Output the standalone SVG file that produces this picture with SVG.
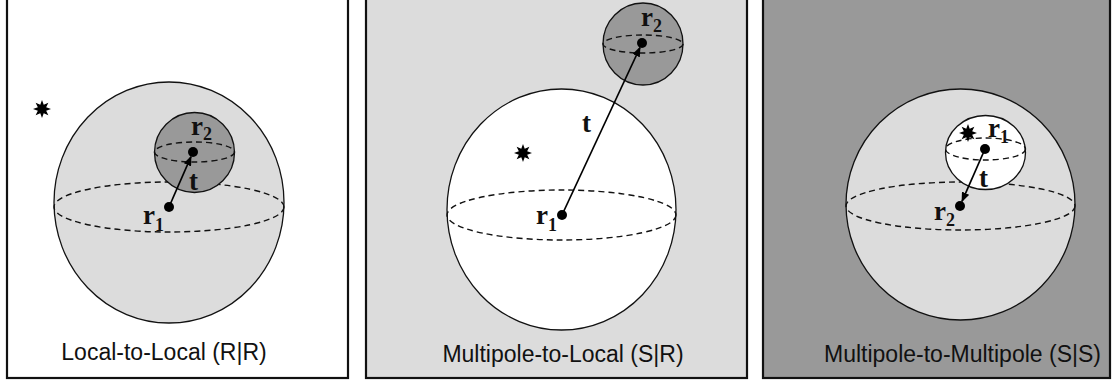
<svg xmlns="http://www.w3.org/2000/svg" width="1114" height="385" viewBox="0 0 1114 385">
<style>
.frame{stroke:#111;stroke-width:2.2}
.sph{stroke:#111;stroke-width:1.3}
.eq{fill:none;stroke:#111;stroke-width:1.4;stroke-dasharray:6 4}
.dot{fill:#000}
.lab{font-family:"Liberation Serif","Times New Roman",serif;font-weight:bold;font-size:27px;fill:#111}
.sub{font-size:18px}
.cap{font-family:"Liberation Sans",Arial,sans-serif;font-size:23px;fill:#111;text-anchor:middle}
.arr{stroke:#000;stroke-width:1.7;fill:none;marker-end:url(#ah)}
.lt{fill:#dcdcdc}.dk{fill:#999}.wh{fill:#fff}
</style>
<defs>
<marker id="ah" markerWidth="10" markerHeight="8" refX="9" refY="4" orient="auto" markerUnits="userSpaceOnUse">
<path d="M0,0 L10,4 L0,8 Z" fill="#000"/>
</marker>
<polygon id="star" points="9,0 4.16,1.72 6.36,6.36 1.72,4.16 0,9 -1.72,4.16 -6.36,6.36 -4.16,1.72 -9,0 -4.16,-1.72 -6.36,-6.36 -1.72,-4.16 0,-9 1.72,-4.16 6.36,-6.36 4.16,-1.72" fill="#000"/>
</defs>
<rect width="1114" height="385" fill="#fff"/>

<g id="panel-rr">
<rect class="frame wh" x="7" y="-3" width="341" height="381"/>
<g id="rr-big"><ellipse class="sph lt" cx="169" cy="202.5" rx="115" ry="120.5"/><ellipse class="eq" cx="169" cy="207" rx="115" ry="25"/></g>
<g id="rr-small"><circle class="sph dk" cx="194.5" cy="152.5" r="40"/><ellipse class="eq" cx="194.5" cy="152" rx="40" ry="10"/></g>
<use id="rr-star" href="#star" x="42" y="109"/>
<g id="rr-r1"><circle class="dot" cx="169" cy="207" r="5"/><text class="lab" x="143" y="224">r<tspan class="sub" dy="7">1</tspan></text></g>
<g id="rr-r2"><circle class="dot" cx="193" cy="152" r="5"/><text class="lab" x="191" y="135">r<tspan class="sub" dy="5">2</tspan></text></g>
<text class="lab" x="189" y="190">t</text>
<text class="cap" x="164" y="360">Local-to-Local (R|R)</text>
</g>

<g id="panel-sr">
<rect class="frame lt" x="366" y="-3" width="381" height="381"/>
<g id="sr-big"><ellipse class="sph wh" cx="561.5" cy="209.5" rx="114.5" ry="120.5"/><ellipse class="eq" cx="561.5" cy="215" rx="114.5" ry="25"/></g>
<g id="sr-small"><ellipse class="sph dk" cx="643" cy="44" rx="40" ry="41"/><ellipse class="eq" cx="643" cy="44" rx="40" ry="9"/></g>
<use id="sr-star" href="#star" x="523" y="153"/>
<g id="sr-r1"><circle class="dot" cx="562" cy="215" r="5"/><text class="lab" x="536" y="224">r<tspan class="sub" dy="7">1</tspan></text></g>
<g id="sr-r2"><circle class="dot" cx="642" cy="43" r="5"/><text class="lab" x="641" y="26">r<tspan class="sub" dy="6">2</tspan></text></g>
<text class="lab" x="582" y="132">t</text>
<text class="cap" x="563" y="362">Multipole-to-Local (S|R)</text>
</g>

<g id="panel-ss">
<rect class="frame dk" x="763" y="-3" width="347" height="381"/>
<g id="ss-big"><ellipse class="sph lt" cx="960.5" cy="204.5" rx="114.5" ry="115.5"/><ellipse class="eq" cx="960.5" cy="206" rx="114.5" ry="24"/></g>
<g id="ss-small"><ellipse class="sph wh" cx="985.5" cy="152.5" rx="40" ry="37"/><ellipse class="eq" cx="985.5" cy="149" rx="40" ry="11"/></g>
<use id="ss-star" href="#star" x="968" y="133"/>
<g id="ss-r1"><circle class="dot" cx="985" cy="149" r="5"/><text class="lab" x="988" y="137">r<tspan class="sub" dy="6">1</tspan></text></g>
<g id="ss-r2"><circle class="dot" cx="960" cy="206" r="5"/><text class="lab" x="934" y="220">r<tspan class="sub" dy="6">2</tspan></text></g>
<text class="lab" x="979" y="187">t</text>
<text class="cap" x="962.5" y="362">Multipole-to-Multipole (S|S)</text>
</g>

<g id="connectors">
<line class="arr" x1="169" y1="207" x2="191" y2="156.6"/>
<line class="arr" x1="562" y1="215" x2="640" y2="47.5"/>
<line class="arr" x1="985" y1="149" x2="962" y2="201.4"/>
</g>
</svg>
